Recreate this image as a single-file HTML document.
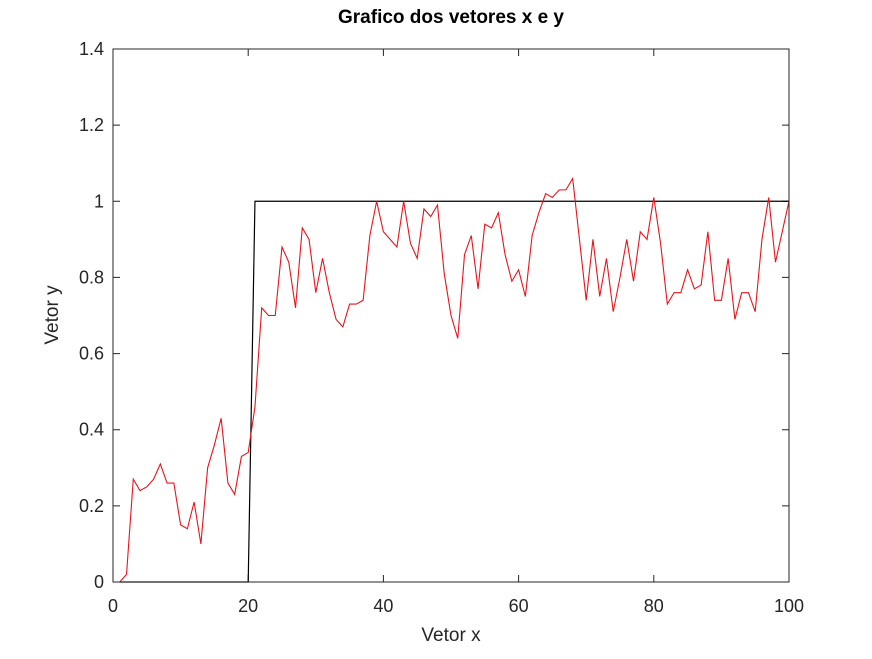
<!DOCTYPE html>
<html><head><meta charset="utf-8"><style>
body{margin:0;background:#fff;}
svg text{font-family:"Liberation Sans",sans-serif;fill:#262626;}
</style></head><body>
<svg id="chart" width="872" height="654" xmlns="http://www.w3.org/2000/svg">
<text x="451" y="23" text-anchor="middle" font-size="19" font-weight="bold" style="fill:#000">Grafico dos vetores x e y</text>
<text x="451" y="641" text-anchor="middle" font-size="19">Vetor x</text>
<text transform="translate(58,315) rotate(-90)" text-anchor="middle" font-size="19">Vetor y</text>
<g id="ticks"></g>
<g id="series"></g>
<rect x="113" y="49" width="676" height="533" fill="none" stroke="#262626" stroke-width="1"/>
</svg>
<script>
const xTicks=[0,20,40,60,80,100];
const yTicks=[0,0.2,0.4,0.6,0.8,1,1.2,1.4];
const yTickLabels=["0","0.2","0.4","0.6","0.8","1","1.2","1.4"];
const redY=[0,0.02,0.27,0.24,0.25,0.27,0.31,0.26,0.26,0.15,0.14,0.21,0.10,0.30,0.36,0.43,0.26,0.23,0.33,0.34,
0.46,0.72,0.70,0.70,0.88,0.84,0.72,0.93,0.90,0.76,0.85,0.76,0.69,0.67,0.73,0.73,0.74,0.91,1.00,0.92,
0.90,0.88,1.00,0.89,0.85,0.98,0.96,0.99,0.81,0.70,0.64,0.86,0.91,0.77,0.94,0.93,0.97,0.86,0.79,0.82,
0.75,0.91,0.97,1.02,1.01,1.03,1.03,1.06,0.90,0.74,0.90,0.75,0.85,0.71,0.80,0.90,0.79,0.92,0.90,1.01,
0.89,0.73,0.76,0.76,0.82,0.77,0.78,0.92,0.74,0.74,0.85,0.69,0.76,0.76,0.71,0.90,1.01,0.84,0.92,1.00];
const blackY=[0,0,0,0,0,0,0,0,0,0,0,0,0,0,0,0,0,0,0,0,
1,1,1,1,1,1,1,1,1,1,1,1,1,1,1,1,1,1,1,1,1,1,1,1,1,1,1,1,1,1,1,1,1,1,1,1,1,1,1,1,
1,1,1,1,1,1,1,1,1,1,1,1,1,1,1,1,1,1,1,1,1,1,1,1,1,1,1,1,1,1,1,1,1,1,1,1,1,1,1,1];
const NS="http://www.w3.org/2000/svg";
const X=v=>113+v/100*676, Y=v=>582-v/1.4*533;
const tg=document.getElementById('ticks'), sg=document.getElementById('series');
function mk(t,a,p){const e=document.createElementNS(NS,t);for(const k in a)e.setAttribute(k,a[k]);p.appendChild(e);return e;}
xTicks.forEach(v=>{
 const l=mk('path',{d:`M${X(v)},582v-7M${X(v)},49v7`,stroke:'#262626'},tg);
 
 
 const t=mk('text',{x:X(v),y:612,'text-anchor':'middle','font-size':18},tg);t.textContent=v;
 
 
});
yTicks.forEach((v,i)=>{
 const l=mk('path',{d:`M113,${Y(v)}h7M789,${Y(v)}h-7`,stroke:'#262626'},tg);
 
 
 const t=mk('text',{x:104,y:Y(v)+6,'text-anchor':'end','font-size':18},tg);t.textContent=yTickLabels[i];
 
 
});
const pts=a=>a.map((v,i)=>X(i+1)+','+Y(v)).join(' ');
const b=mk('polyline',{points:pts(blackY),fill:'none',stroke:'#000','stroke-width':1.2},sg);


const r=mk('polyline',{points:pts(redY),fill:'none',stroke:'#e8141c','stroke-width':1.1},sg);


</script>
</body></html>
